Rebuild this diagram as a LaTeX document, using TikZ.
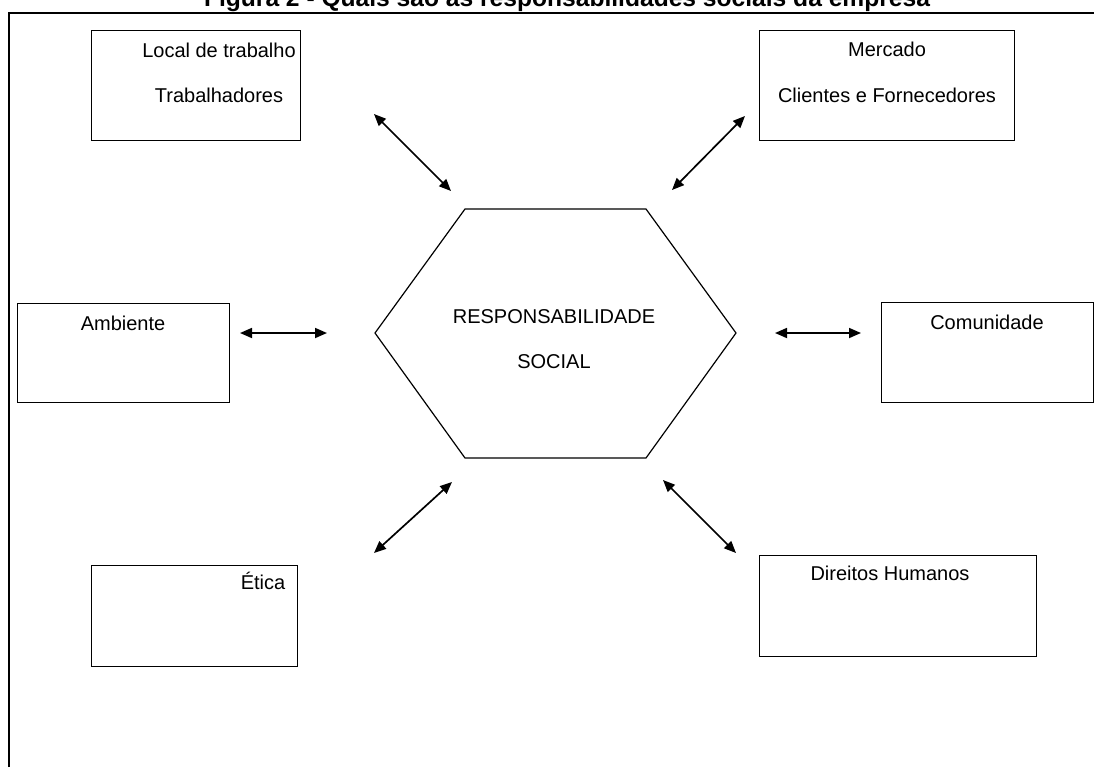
\documentclass[tikz,border=0pt]{standalone}
\usepackage{fontspec}
\setmainfont{Liberation Sans}
\usetikzlibrary{arrows.meta}

\begin{document}
\begin{tikzpicture}[x=0.5pt,y=-0.5pt,>={Triangle[length=6pt,width=5pt]},
		box/.style={draw,line width=0.6pt,rectangle,inner sep=0pt,anchor=north west},
		txt/.style={anchor=base,inner sep=0pt,font=\fontsize{10pt}{12pt}\selectfont},
		link/.style={<->,line width=0.85pt}]
		\useasboundingbox (0,0) rectangle (1094,767);
		\clip (0,0) rectangle (1094,767);

		% draw the title and the frame
		\node[anchor=base,inner sep=0pt,font=\bfseries\fontsize{12.3pt}{14pt}\selectfont] (title) at (567,6)
			{Figura 2 - Quais são as responsabilidades sociais da empresa};
		\draw[line width=0.7pt] (9,767) -- (9,13) -- (1094,13);

		% draw the boxes
		\foreach \name/\x/\y/\w/\h in {
		local/91/30/209/110,
		mercado/759/30/255/110,
		ambiente/17/303/212/99,
		comunidade/881/302/212/100,
		etica/91/565/206/101,
		direitos/759/555/277/101}
			\node[box,minimum width=\w*0.5pt,minimum height=\h*0.5pt] (\name) at (\x,\y) {};

		% draw the texts of the boxes
		\node[txt] (local-a) at (219,57) {Local de trabalho};
		\node[txt] (local-b) at (219,102) {Trabalhadores};
		\node[txt] (mercado-a) at (887,56) {Mercado};
		\node[txt] (mercado-b) at (887,102) {Clientes e Fornecedores};
		\node[txt] (ambiente-a) at (123,330) {Ambiente};
		\node[txt] (comunidade-a) at (987,329) {Comunidade};
		\node[txt] (etica-a) at (263,589) {Ética};
		\node[txt] (direitos-a) at (890,580) {Direitos Humanos};

		% draw the hexagon
		\coordinate (h1) at (375,333);
		\coordinate (h2) at (465,209);
		\coordinate (h3) at (646,209);
		\coordinate (h4) at (736,333);
		\coordinate (h5) at (646,458);
		\coordinate (h6) at (465,458);
		\draw[line width=0.6pt] (h1) -- (h2) -- (h3) -- (h4) -- (h5) -- (h6) -- cycle;
		\node[txt] (resp-a) at (554,323) {RESPONSABILIDADE};
		\node[txt] (resp-b) at (554,368) {SOCIAL};

		% ends of the arrows
		\foreach \i/\xa/\ya/\xb/\yb in {
		1/374/114/451/191,
		2/745/116/672/190,
		3/240/333/327/333,
		4/775/333/861/333,
		5/374/553/452/482,
		6/663/480/736/553} {
			\coordinate (s\i) at (\xa,\ya);
			\coordinate (e\i) at (\xb,\yb);
		}

		% draw the arrows
		\foreach \i in {1,...,6}
			\draw[link] (s\i) -- (e\i);
	\end{tikzpicture}
\end{document}
